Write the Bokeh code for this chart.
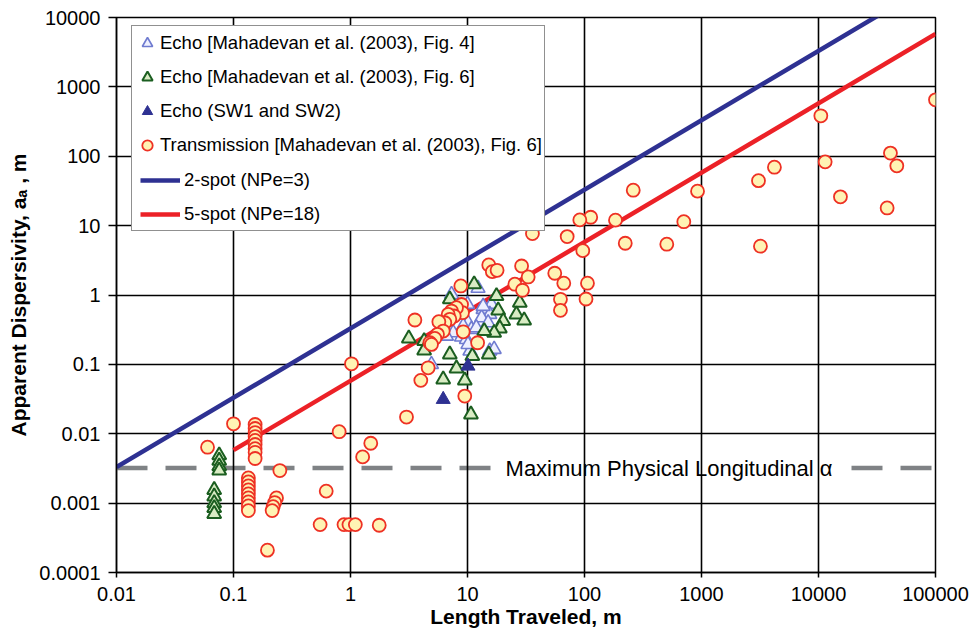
from bokeh.plotting import figure
from bokeh.models import FixedTicker, Legend, LegendItem, Label
from bokeh.embed import file_html
from bokeh.resources import INLINE

# ---------------- data ----------------
x_ticks = [0.01, 0.1, 1, 10, 100, 1000, 10000, 100000]
x_tick_labels = ["0.01", "0.1", "1", "10", "100", "1000", "10000", "100000"]
y_ticks = [0.0001, 0.001, 0.01, 0.1, 1, 10, 100, 1000, 10000]
y_tick_labels = ["0.0001", "0.001", "0.01", "0.1", "1", "10", "100", "1000", "10000"]

# Transmission [Mahadevan et al. (2003), Fig. 6]
trans_x = [0.1,
           0.153, 0.153, 0.153, 0.153, 0.153, 0.153, 0.153, 0.153, 0.153,
           0.249,
           0.134, 0.134, 0.134, 0.134, 0.134, 0.134, 0.134, 0.134, 0.134,
           0.233, 0.225, 0.218, 0.214,
           0.195, 0.62, 0.55, 0.88, 0.97, 1.10, 1.76, 0.80, 1.02, 1.49, 1.27,
           3.01, 3.99, 0.060,
           15.2, 16.3, 17.9, 29.0, 33.0, 25.4, 29.5, 8.77, 3.55, 8.89,
           9.06, 8.05, 7.3, 7.7, 6.84, 7.06, 6.4, 5.69, 6.2, 5.54, 5.26, 4.77,
           9.19, 12.2, 4.61, 9.48, 4.92,
           20.6, 35.9, 71.1, 55.7, 66.5, 62.3, 62.3,
           10470, 100000, 11400, 41200, 46700, 15400, 38600, 4200, 3070, 3190,
           925, 706, 505, 261, 184, 223, 113, 91.2, 96.7, 106, 103]
trans_y = [0.0139,
           0.0136, 0.0119, 0.0104, 0.0091, 0.0080, 0.0070, 0.0061, 0.0054, 0.0044,
           0.00295,
           0.00231, 0.00202, 0.00177, 0.00155, 0.00136, 0.00119, 0.00104, 0.00091, 0.00078,
           0.00119, 0.00102, 0.00089, 0.00078,
           0.00021, 0.00149, 0.00049, 0.00049, 0.00049, 0.00049, 0.00048, 0.0107, 0.102, 0.0073, 0.00464,
           0.0174, 0.0588, 0.0064,
           2.71, 2.17, 2.27, 2.62, 1.82, 1.43, 1.17, 1.35, 0.436, 0.73,
           0.556, 0.656, 0.587, 0.498, 0.526, 0.446, 0.398, 0.412, 0.302, 0.271, 0.237, 0.205,
           0.295, 0.205, 0.0893, 0.0349, 0.194,
           11.7, 7.67, 6.95, 2.06, 1.48, 0.867, 0.601,
           383, 650, 83, 111, 72.7, 26, 18, 69.5, 44.5, 5.05,
           31.4, 11.4, 5.4, 32.4, 12, 5.57, 13.2, 12.1, 4.36, 1.48, 0.875]

# Echo [Mahadevan et al. (2003), Fig. 6]
fig6_x = [0.0755, 0.0755, 0.0755, 0.0755,
          0.0684, 0.0684, 0.0684, 0.0684, 0.0684,
          11.4, 7.06, 17.7, 28, 18.3, 26.2, 30.5, 20.2, 18.9, 16.9, 13.9,
          3.15, 4.26, 4.26, 7.06, 11, 15.2, 8.05, 6.2, 9.48, 10.7]
fig6_y = [0.0049, 0.0041, 0.0034, 0.00295,
          0.00155, 0.00125, 0.001, 0.00085, 0.0007,
          1.43, 0.867, 0.968, 0.774, 0.601, 0.526, 0.431, 0.421, 0.33, 0.286, 0.302,
          0.237, 0.217, 0.159, 0.139, 0.132, 0.139, 0.0875, 0.0608, 0.0588, 0.019]

# Echo [Mahadevan et al. (2003), Fig. 4]
fig4_x = [12.3, 7.3, 10, 16, 13.6, 15.5, 13.2, 15, 10.1, 9.19, 10.8, 11.9,
          7.55, 8.89, 9.8, 10.5, 15.5, 4.92, 13.6, 10.1, 16.9, 6.6]
fig4_y = [1.25, 1.02, 0.734, 0.734, 0.622, 0.526, 0.471, 0.398, 0.398, 0.357, 0.32, 0.338,
          0.286, 0.248, 0.229, 0.156, 0.156, 0.1, 0.687, 0.194, 0.165, 0.256]

# Echo (SW1 and SW2)
sw_x = [10.1, 6.2]
sw_y = [0.0945, 0.0313]

# Model lines
spot2_x = [0.01, 100000]
spot2_y = [0.0033, 33000]
spot5_x = [0.1, 100000]
spot5_y = [0.0058, 5800]

# Maximum physical longitudinal dispersivity
maxphys_x = [0.01, 100000]
maxphys_y = [0.0032, 0.0032]

# ---------------- figure ----------------
FONT = "Liberation Sans"

p = figure(width=971, height=637, x_axis_type="log", y_axis_type="log",
           x_range=(0.01, 100000), y_range=(0.0001, 10000),
           output_backend="svg", toolbar_location=None,
           min_border_left=116, min_border_right=36, min_border_top=17, min_border_bottom=65)
p.background_fill_color = "white"
p.border_fill_color = "white"
p.outline_line_color = "black"
p.outline_line_width = 1.5

xt = FixedTicker(ticks=x_ticks, minor_ticks=[])
yt = FixedTicker(ticks=y_ticks, minor_ticks=[])
p.xaxis.ticker = xt
p.yaxis.ticker = yt
p.xgrid.ticker = xt
p.ygrid.ticker = yt
p.xaxis.major_label_overrides = dict(zip(x_ticks, x_tick_labels))
p.yaxis.major_label_overrides = dict(zip(y_ticks, y_tick_labels))

for g in (p.xgrid, p.ygrid):
    g.grid_line_color = "black"
    g.grid_line_width = 1.6
    g.grid_line_alpha = 1.0

for ax in (p.xaxis, p.yaxis):
    ax.axis_line_color = "black"
    ax.axis_line_width = 1.5
    ax.major_tick_line_color = "black"
    ax.major_tick_line_width = 1.5
    ax.major_tick_in = 0
    ax.minor_tick_line_color = None
    ax.major_label_text_font = FONT
    ax.major_label_text_font_size = "20px"
    ax.major_label_text_color = "black"
    ax.axis_label_text_font = FONT
    ax.axis_label_text_font_size = "21px"
    ax.axis_label_text_font_style = "bold"
    ax.axis_label_text_color = "black"

p.xaxis.major_tick_out = 5
p.xaxis.major_label_standoff = 9
p.xaxis.axis_label_standoff = 1
p.yaxis.major_tick_out = 8
p.yaxis.major_label_standoff = 8
p.yaxis.axis_label_standoff = 6
p.xaxis.axis_label = "Length Traveled, m"
p.yaxis.axis_label = "Apparent Dispersivity, a\u2090 , m"

# dashed reference line + its label (drawn below the grid)
p.line(maxphys_x, maxphys_y, line_color="#7f8285", line_width=4.5,
       line_dash="31 18", level="image")
lab = Label(x=16.7, y=maxphys_y[0], text="Maximum Physical Longitudinal  \u03b1",
            text_font=FONT, text_font_size="22px", text_color="black",
            text_baseline="middle", text_align="left",
            background_fill_color="white", background_fill_alpha=1.0,
            padding=12, level="image")
p.add_layout(lab)

# model lines
r2 = p.line(spot2_x, spot2_y, line_color="#2e3192", line_width=4.5)
r5 = p.line(spot5_x, spot5_y, line_color="#ec2127", line_width=4.5)

# data
r_fig4 = p.scatter(fig4_x, fig4_y, marker="triangle", size=14,
                   fill_color="#eef0ff", line_color="#6f7bd0", line_width=1.6)
r_fig6 = p.scatter(fig6_x, fig6_y, marker="triangle", size=14,
                   fill_color="#d9ecc4", line_color="#1b5e20", line_width=2)
r_sw = p.scatter(sw_x, sw_y, marker="triangle", size=14,
                 fill_color="#2e3192", line_color="#2e3192", line_width=1)
r_tr = p.scatter(trans_x, trans_y, marker="circle", size=13,
                 fill_color="#fff3b4", line_color="#ee3124", line_width=1.8)

dummy = p.line([], [], line_alpha=0)

legA = Legend(items=[
    LegendItem(label="Echo [Mahadevan et al. (2003), Fig. 4]", renderers=[r_fig4]),
    LegendItem(label="Echo [Mahadevan et al. (2003), Fig. 6]", renderers=[r_fig6]),
    LegendItem(label="Echo (SW1 and SW2)", renderers=[r_sw]),
    LegendItem(label="Transmission [Mahadevan et al. (2003), Fig. 6]", renderers=[r_tr]),
    LegendItem(label=" ", renderers=[dummy]),
    LegendItem(label=" ", renderers=[dummy]),
], location=(15, 341), glyph_width=26, glyph_height=30, label_height=30,
   padding=2, spacing=4, margin=0, label_standoff=0,
   label_text_font=FONT, label_text_font_size="18.5px", label_text_color="black",
   border_line_color="#222222", border_line_width=1.5,
   background_fill_color="white", background_fill_alpha=1.0)

legB = Legend(items=[
    LegendItem(label="2-spot (NPe=3)", renderers=[r2]),
    LegendItem(label="5-spot (NPe=18)", renderers=[r5]),
], location=(22, 341), glyph_width=40, glyph_height=30, label_height=30,
   padding=2, spacing=4, margin=0, label_standoff=4,
   label_text_font=FONT, label_text_font_size="18.5px", label_text_color="black",
   border_line_alpha=0, background_fill_alpha=0)

p.add_layout(legA)
p.add_layout(legB)

open("out.html", "w").write(file_html(p, INLINE))
